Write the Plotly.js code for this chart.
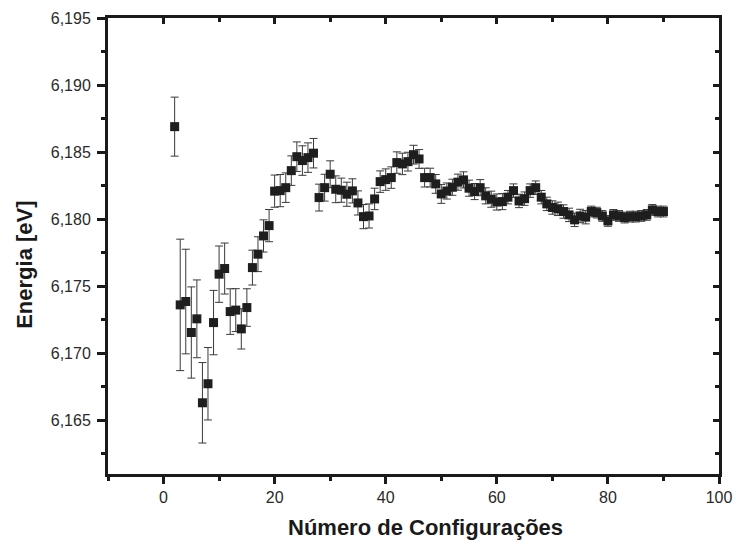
<!DOCTYPE html>
<html>
<head>
<meta charset="utf-8">
<script src="https://cdn.plot.ly/plotly-3.0.1.min.js"></script>
<style>html,body{margin:0;padding:0;background:#fff;}#chart{width:736px;height:547px;}</style>
</head>
<body>
<div id="chart"></div>
<script>
const configs = [2,3,4,5,6,7,8,9,10,11,12,13,14,15,16,17,18,19,20,21,22,23,24,25,26,27,28,29,30,31,32,33,34,35,36,37,38,39,40,41,42,43,44,45,46,47,48,49,50,51,52,53,54,55,56,57,58,59,60,61,62,63,64,65,66,67,68,69,70,71,72,73,74,75,76,77,78,79,80,81,82,83,84,85,86,87,88,89,90];
const energy = [6.1869,6.17361,6.17386,6.17155,6.17257,6.16631,6.16773,6.17229,6.1759,6.17632,6.17311,6.17322,6.17182,6.17341,6.17639,6.17739,6.17875,6.17952,6.18209,6.18213,6.18235,6.18362,6.18466,6.18437,6.18459,6.18492,6.18161,6.18235,6.18335,6.18223,6.18216,6.18186,6.18211,6.18121,6.18019,6.18024,6.18151,6.1828,6.18295,6.1831,6.18422,6.18412,6.18429,6.18481,6.18449,6.1831,6.1831,6.18263,6.18188,6.1821,6.18238,6.18276,6.18293,6.18231,6.18206,6.18235,6.18174,6.18149,6.18128,6.18131,6.18164,6.18213,6.18136,6.18153,6.18213,6.18235,6.18164,6.18114,6.18087,6.18077,6.18057,6.18032,6.17995,6.18024,6.18015,6.18057,6.18049,6.18024,6.17987,6.18032,6.18024,6.18012,6.18019,6.18019,6.18024,6.18032,6.18069,6.18057,6.18057];
const errors = [0.0022,0.0049,0.0039,0.0034,0.0029,0.0030,0.0027,0.0024,0.0021,0.0019,0.0017,0.0016,0.0015,0.0014,0.0013,0.0013,0.0012,0.0012,0.0012,0.0012,0.0011,0.0011,0.0011,0.0011,0.0011,0.0011,0.0010,0.0010,0.0010,0.0010,0.0009,0.0009,0.0009,0.0009,0.0009,0.0009,0.0008,0.0008,0.0008,0.0008,0.0008,0.0008,0.0007,0.0007,0.0007,0.0007,0.0007,0.0007,0.0007,0.0006,0.0006,0.0006,0.0006,0.0006,0.0006,0.0006,0.0006,0.0006,0.0006,0.0006,0.0005,0.0005,0.0005,0.0005,0.0005,0.0005,0.0005,0.0005,0.0005,0.0005,0.0005,0.0005,0.0005,0.0005,0.0005,0.0004,0.0004,0.0004,0.0004,0.0004,0.0004,0.0004,0.0004,0.0004,0.0004,0.0004,0.0004,0.0004,0.0004];
const xTicks = [0,20,40,60,80,100];
const yTicks = [6.165,6.170,6.175,6.180,6.185,6.190,6.195];
const yTickText = ["6,165","6,170","6,175","6,180","6,185","6,190","6,195"];
const xTitle = 'Número de Configurações';
const yTitle = 'Energia [eV]';

const font = "Liberation Sans, Arial, sans-serif";
const traces = [
  {
    x: configs, y: energy, type: 'scatter', mode: 'markers',
    marker: {symbol: 'square', size: 9, color: '#1e1e1e'},
    error_y: {type: 'data', array: errors, visible: true, color: '#3a3a3a', thickness: 1, width: 4},
    showlegend: false, hoverinfo: 'x+y'
  },
  { x: [null], y: [null], xaxis: 'x2', yaxis: 'y2', mode: 'markers', showlegend: false, hoverinfo: 'skip' }
];

const axFont = {family: font, size: 16, color: '#2a2a2a'};
const titleFont = {family: font, size: 22, color: '#1a1a1a', weight: 'bold'};
const layout = {
  width: 736, height: 547,
  margin: {l: 108, r: 17, t: 18, b: 73},
  paper_bgcolor: '#fff', plot_bgcolor: '#fff',
  separators: ', ',
  showlegend: false,
  xaxis: {
    range: [-10, 100], tickvals: xTicks, ticktext: xTicks.map(String),
    ticks: 'outside', ticklen: 7, tickwidth: 3, tickcolor: '#1a1a1a',
    minor: {ticks: 'outside', ticklen: 4, tickwidth: 3, dtick: 10, tick0: 0, tickcolor: '#1a1a1a'},
    showline: true, linewidth: 3, linecolor: '#1a1a1a', mirror: true,
    showgrid: false, zeroline: false, tickfont: axFont, ticklabelstandoff: 0
  },
  yaxis: {
    range: [6.161, 6.195], tickvals: yTicks, ticktext: yTickText,
    ticks: 'outside', ticklen: 8, tickwidth: 3, tickcolor: '#1a1a1a',
    minor: {ticks: 'outside', ticklen: 4, tickwidth: 3, dtick: 0.005, tick0: 6.1625, tickcolor: '#1a1a1a'},
    showline: true, linewidth: 3, linecolor: '#1a1a1a', mirror: true,
    showgrid: false, zeroline: false, tickfont: axFont, ticklabelstandoff: 3
  },
  xaxis2: {
    overlaying: 'x', side: 'top', range: [-10, 100], tickvals: xTicks, showticklabels: false,
    ticks: 'inside', ticklen: 6, tickwidth: 3, tickcolor: '#1a1a1a',
    minor: {ticks: 'inside', ticklen: 4, tickwidth: 3, dtick: 10, tick0: 0, tickcolor: '#1a1a1a'},
    showline: false, showgrid: false, zeroline: false
  },
  yaxis2: {
    overlaying: 'y', side: 'right', range: [6.161, 6.195], tickvals: yTicks, showticklabels: false,
    ticks: 'inside', ticklen: 6, tickwidth: 3, tickcolor: '#1a1a1a',
    minor: {ticks: 'inside', ticklen: 4, tickwidth: 3, dtick: 0.005, tick0: 6.1625, tickcolor: '#1a1a1a'},
    showline: false, showgrid: false, zeroline: false
  },
  annotations: [
    {text: xTitle, xref: 'paper', yref: 'paper', x: 0.52, y: -0.118, xanchor: 'center', yanchor: 'middle', showarrow: false, font: titleFont},
    {text: yTitle, xref: 'paper', yref: 'paper', x: -0.138, y: 0.458, xanchor: 'center', yanchor: 'middle', showarrow: false, textangle: -90, font: titleFont}
  ]
};
Plotly.newPlot('chart', traces, layout, {displayModeBar: false, staticPlot: true});
</script>
</body>
</html>
